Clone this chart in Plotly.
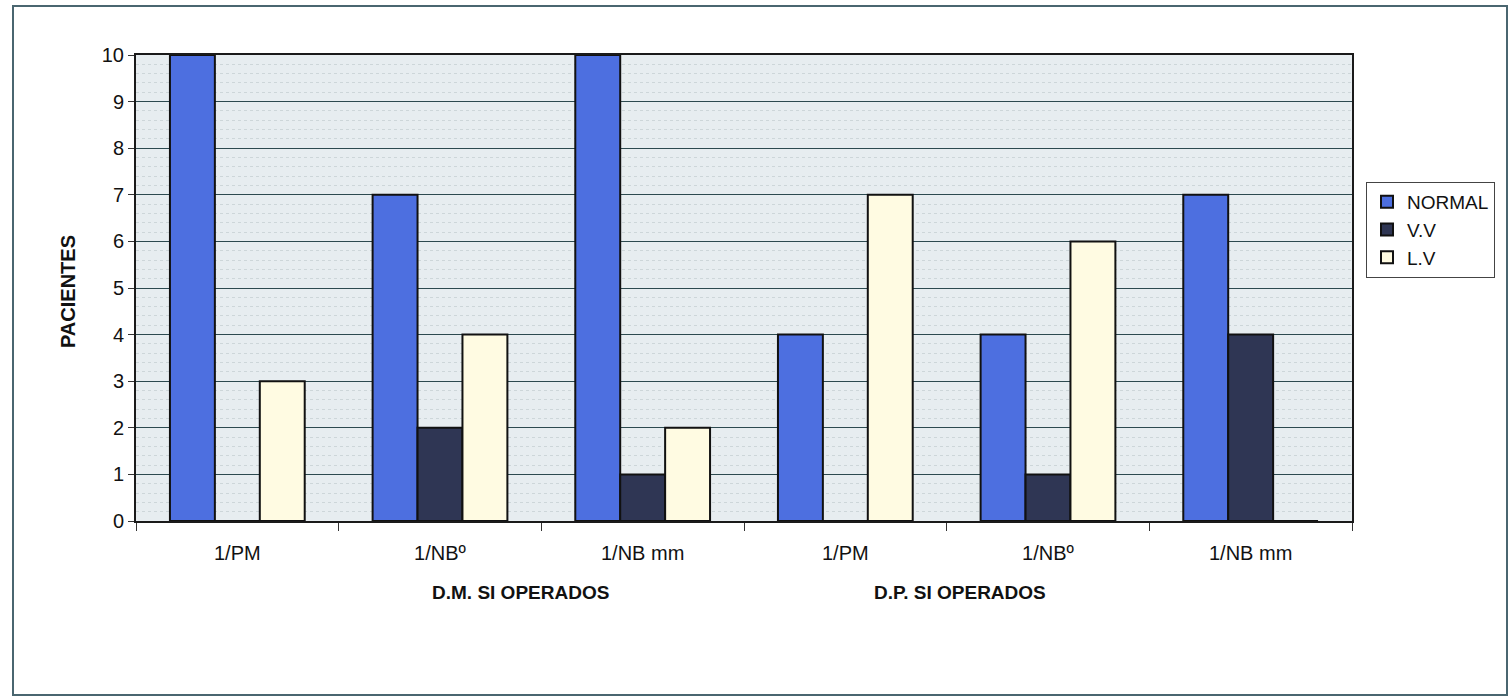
import plotly.graph_objects as go

# Categories (two groups of three measurements)
cat_keys = ["DM_PM", "DM_NBg", "DM_NBmm", "DP_PM", "DP_NBg", "DP_NBmm"]
cat_labels = ["1/PM", "1/NBº", "1/NB mm", "1/PM", "1/NBº", "1/NB mm"]
group_labels = ["D.M. SI OPERADOS", "D.P. SI OPERADOS"]

# Patient counts per series
normal = [10, 7, 10, 4, 4, 7]
vv = [0, 2, 1, 0, 1, 4]
lv = [3, 4, 2, 7, 6, 0]

series = [
    ("NORMAL", normal, "#4d6fe0"),
    ("V.V", vv, "#2f3654"),
    ("L.V", lv, "#fffbe2"),
]

FONT = "Liberation Sans, Arial, sans-serif"

fig = go.Figure()
for name, vals, color in series:
    fig.add_trace(go.Bar(
        name=name, x=cat_keys, y=vals,
        marker=dict(color=color, line=dict(color="#111111", width=2)),
    ))

# Plot area in pixels: x 136..1352, y 55..521
W, H = 1512, 698
L, R, T, B = 136, 1352, 55, 521


def px_x(p):
    return (p - L) / (R - L)


def px_y(p):
    return (B - p) / (B - T)


fig.update_layout(
    width=W, height=H,
    margin=dict(l=L, r=W - R, t=T, b=H - B, pad=0),
    barmode="group", bargap=0.335, bargroupgap=0,
    paper_bgcolor="white", plot_bgcolor="#e7edf0",
    font=dict(family=FONT, size=20, color="#111111"),
    showlegend=True,
    legend=dict(
        x=px_x(1366), y=px_y(182), xanchor="left", yanchor="top",
        bordercolor="#444444", borderwidth=1, bgcolor="white",
        font=dict(size=19, family=FONT), tracegroupgap=2,
        itemwidth=30,
    ),
    xaxis=dict(
        type="category", tickvals=cat_keys, ticktext=cat_labels,
        tickson="boundaries", ticks="outside", ticklen=8, tickcolor="#333",
        showline=True, linecolor="#1a1a1a", linewidth=2, mirror=True,
        showgrid=False, tickfont=dict(size=20), range=[-0.5, 5.5],
        ticklabelstandoff=13,
    ),
    yaxis=dict(
        range=[0, 10], dtick=1, ticks="outside", ticklen=6, tickcolor="#333",
        showline=True, linecolor="#1a1a1a", linewidth=2, mirror=True,
        showgrid=True, gridcolor="#2d4a50", gridwidth=1.3,
        tickfont=dict(size=20),
        minor=dict(dtick=0.2, showgrid=True, gridcolor="#cdd6d9",
                   griddash="dot", gridwidth=1),
        zeroline=False,
    ),
)

# Group labels under the category labels
for label, xp in zip(group_labels, [520, 960]):
    fig.add_annotation(
        text="<b>%s</b>" % label, xref="paper", yref="paper",
        x=px_x(xp), y=px_y(592), xanchor="center", yanchor="middle",
        showarrow=False, font=dict(size=19, family=FONT),
    )

# Vertical axis title
fig.add_annotation(
    text="<b>PACIENTES</b>", xref="paper", yref="paper",
    x=px_x(68), y=px_y(292), xanchor="center", yanchor="middle",
    showarrow=False, textangle=-90,
    font=dict(size=20, family=FONT),
)

# Outer chart frame
fig.add_shape(
    type="rect", xref="paper", yref="paper", layer="below",
    x0=px_x(13), x1=px_x(1507), y0=px_y(695), y1=px_y(6),
    line=dict(color="#4a6670", width=2), fillcolor="rgba(0,0,0,0)",
)

fig.write_html("out.html")
